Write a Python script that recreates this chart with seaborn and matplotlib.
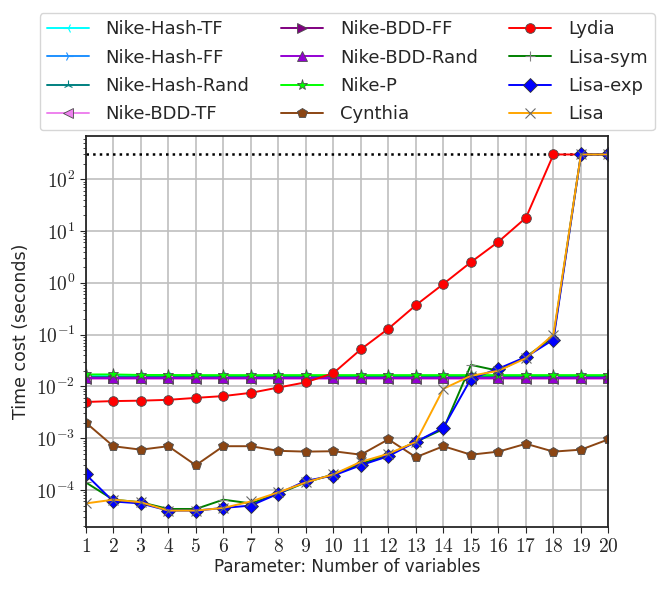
import numpy as np
import pandas as pd
import matplotlib
matplotlib.use("Agg")
import matplotlib.pyplot as plt
import matplotlib.ticker as mticker
import seaborn as sns

# Data
n_vars = list(range(1, 21))
timeout = 300

nike_hash_tf = [0.0160] * 20
nike_hash_ff = [0.0155] * 20
nike_hash_rand = [0.0155] * 20
nike_bdd_tf = [0.0140] * 20
nike_bdd_ff = [0.0145] * 20
nike_bdd_rand = [0.0143] * 20
nike_p = [0.0170, 0.0170, 0.0166, 0.0166, 0.0165, 0.0165, 0.0165, 0.0165, 0.0165, 0.0165,
          0.0165, 0.0165, 0.0165, 0.0165, 0.0165, 0.0165, 0.0165, 0.0165, 0.0165, 0.0165]
cynthia = [2.0e-3, 7.0e-4, 6.0e-4, 7.0e-4, 3.0e-4, 7.0e-4, 7.0e-4, 5.7e-4, 5.5e-4, 5.6e-4,
           4.8e-4, 9.5e-4, 4.3e-4, 7.0e-4, 4.8e-4, 5.5e-4, 7.8e-4, 5.5e-4, 6.0e-4, 9.5e-4]
lydia = [5.0e-3, 5.2e-3, 5.3e-3, 5.5e-3, 6.0e-3, 6.5e-3, 7.5e-3, 9.5e-3, 0.012, 0.018,
         0.052, 0.13, 0.37, 0.95, 2.5, 6.2, 18, 300, 300, 300]
lisa_sym = [1.4e-4, 6.5e-5, 5.8e-5, 4.3e-5, 4.3e-5, 6.5e-5, 5.5e-5, 8.5e-5, 1.4e-4, 2.0e-4,
            3.2e-4, 4.8e-4, 8.5e-4, 1.5e-3, 0.026, 0.020, 0.037, 0.090, 300, 300]
lisa_exp = [2.0e-4, 6.0e-5, 5.5e-5, 4.0e-5, 4.0e-5, 4.5e-5, 5.0e-5, 8.5e-5, 1.5e-4, 1.9e-4,
            3.0e-4, 4.5e-4, 8.5e-4, 1.6e-3, 0.014, 0.022, 0.037, 0.080, 300, 300]
lisa = [5.5e-5, 6.5e-5, 5.8e-5, 4.0e-5, 4.0e-5, 4.5e-5, 6.0e-5, 9.0e-5, 1.4e-4, 2.0e-4,
        3.5e-4, 5.0e-4, 8.5e-4, 9.0e-3, 0.016, 0.020, 0.035, 0.100, 300, 300]

series = [
    ("Nike-Hash-TF", nike_hash_tf, "cyan", "3", None),
    ("Nike-Hash-FF", nike_hash_ff, "dodgerblue", "4", None),
    ("Nike-Hash-Rand", nike_hash_rand, "teal", "2", None),
    ("Nike-BDD-TF", nike_bdd_tf, "violet", "<", "0.3"),
    ("Nike-BDD-FF", nike_bdd_ff, "purple", ">", "0.3"),
    ("Nike-BDD-Rand", nike_bdd_rand, "darkviolet", "^", "0.3"),
    ("Nike-P", nike_p, "lime", "*", "0.3"),
    ("Cynthia", cynthia, "saddlebrown", "p", "0.3"),
    ("Lydia", lydia, "red", "o", "0.3"),
    ("Lisa-sym", lisa_sym, "green", "+", "gray"),
    ("Lisa-exp", lisa_exp, "blue", "D", "0.2"),
    ("Lisa", lisa, "orange", "x", "dimgray"),
]

sns.set_style("ticks")
plt.rcParams["font.family"] = ["DejaVu Sans"]
plt.rcParams["mathtext.fontset"] = "cm"

fig = plt.figure(figsize=(6.65, 5.9), dpi=100)
ax = fig.add_axes([0.129, 0.107, 0.786, 0.662])

for name, vals, color, marker, mec in series:
    ms = 7
    kw = dict(markeredgecolor=mec if mec else color, markeredgewidth=0.6)
    if marker in ("+", "x", "2", "3", "4"):
        kw["markeredgewidth"] = 0.8
    if marker == "*":
        ms = 8
    sns.lineplot(x=n_vars, y=vals, ax=ax, color=color, marker=marker,
                 markersize=ms, linewidth=1.4, label=name, **kw)

ax.axhline(timeout, color="black", linestyle=":", linewidth=1.8, zorder=1)

ax.set_yscale("log")
ax.set_xlim(1, 20)
ax.set_ylim(1.94e-5, 673)
ax.set_xticks(n_vars)
ax.set_xticklabels([rf"${v}$" for v in n_vars])
ax.yaxis.set_major_locator(mticker.LogLocator(base=10, numticks=12))
ax.yaxis.set_major_formatter(mticker.FuncFormatter(lambda v, p: r"$10^{%d}$" % round(np.log10(v))))
ax.grid(True, which="major", color="0.75", linewidth=1.2)
ax.tick_params(axis="both", which="major", labelsize=14, direction="out", length=4)
ax.tick_params(axis="y", which="minor", direction="out", length=2)
ax.set_xlabel("Parameter: Number of variables", fontsize=12, labelpad=1)
ax.set_ylabel("Time cost (seconds)", fontsize=12.5, labelpad=4)
for s in ax.spines.values():
    s.set_linewidth(1.3)

ax.legend(loc="lower left", bbox_to_anchor=(-0.088, 1.015), ncol=3, fontsize=13,
          frameon=True, borderaxespad=0, columnspacing=1.75, handlelength=2.3,
          handletextpad=0.95, labelspacing=0.57, fancybox=True, edgecolor="0.8")

fig.savefig("out.png", dpi=100)
